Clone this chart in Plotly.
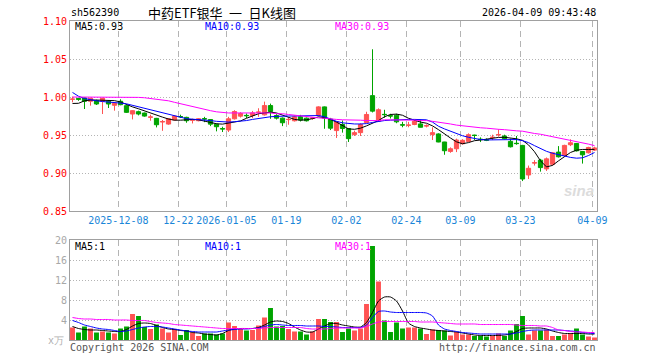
import plotly.graph_objects as go

# ---------------- data ----------------
dates = ["2025-11-26", "2025-11-27", "2025-11-28",
         "2025-12-01", "2025-12-02", "2025-12-03", "2025-12-04", "2025-12-05",
         "2025-12-08", "2025-12-09", "2025-12-10", "2025-12-11", "2025-12-12",
         "2025-12-15", "2025-12-16", "2025-12-17", "2025-12-18", "2025-12-19",
         "2025-12-22", "2025-12-23", "2025-12-24", "2025-12-25", "2025-12-26",
         "2025-12-29", "2025-12-30", "2025-12-31",
         "2026-01-05", "2026-01-06", "2026-01-07", "2026-01-08", "2026-01-09",
         "2026-01-12", "2026-01-13", "2026-01-14", "2026-01-15", "2026-01-16",
         "2026-01-19", "2026-01-20", "2026-01-21", "2026-01-22", "2026-01-23",
         "2026-01-26", "2026-01-27", "2026-01-28", "2026-01-29", "2026-01-30",
         "2026-02-02", "2026-02-03", "2026-02-04", "2026-02-05", "2026-02-06",
         "2026-02-09", "2026-02-10", "2026-02-11", "2026-02-12", "2026-02-13",
         "2026-02-24", "2026-02-25", "2026-02-26", "2026-02-27",
         "2026-03-02", "2026-03-03", "2026-03-04", "2026-03-05", "2026-03-06",
         "2026-03-09", "2026-03-10", "2026-03-11", "2026-03-12", "2026-03-13",
         "2026-03-16", "2026-03-17", "2026-03-18", "2026-03-19", "2026-03-20",
         "2026-03-23", "2026-03-24", "2026-03-25", "2026-03-26", "2026-03-27",
         "2026-03-30", "2026-03-31", "2026-04-01", "2026-04-02", "2026-04-03",
         "2026-04-07", "2026-04-08", "2026-04-09"]

open_ = [0.9970, 0.9980, 0.9988, 0.9944, 0.9952, 0.9944, 0.9944, 0.9891, 0.9944, 0.9886,
         0.9776, 0.9807, 0.9789, 0.9734, 0.9719, 0.9672, 0.9644, 0.9697, 0.9743, 0.9732,
         0.9695, 0.9688, 0.9715, 0.9704, 0.9643, 0.9584, 0.9565, 0.9713, 0.9748, 0.9758,
         0.9756, 0.9798, 0.9765, 0.9887, 0.9756, 0.9722, 0.9702, 0.9687, 0.9739, 0.9722,
         0.9720, 0.9756, 0.9870, 0.9710, 0.9558, 0.9638, 0.9585, 0.9505, 0.9531, 0.9664,
         1.0018, 0.9682, 0.9772, 0.9754, 0.9761, 0.9635, 0.9627, 0.9638, 0.9646, 0.9618,
         0.9505, 0.9514, 0.9408, 0.9284, 0.9319, 0.9385, 0.9416, 0.9498, 0.9445, 0.9436,
         0.9467, 0.9502, 0.9487, 0.9416, 0.9391, 0.9363, 0.8974, 0.9131, 0.9169, 0.9054,
         0.9115, 0.9275, 0.9230, 0.9372, 0.9389, 0.9283, 0.9266, 0.9301]
high = [1.0005, 0.9990, 0.9996, 0.9990, 0.9965, 0.9990, 0.9955, 0.9925, 0.9970, 0.9890,
        0.9825, 0.9820, 0.9795, 0.9767, 0.9725, 0.9697, 0.9723, 0.9755, 0.9767, 0.9740,
        0.9714, 0.9720, 0.9739, 0.9710, 0.9650, 0.9609, 0.9739, 0.9826, 0.9800, 0.9783,
        0.9817, 0.9852, 0.9939, 0.9913, 0.9774, 0.9730, 0.9730, 0.9756, 0.9765, 0.9730,
        0.9735, 0.9878, 0.9875, 0.9725, 0.9680, 0.9691, 0.9590, 0.9558, 0.9655, 0.9806,
        1.0628, 0.9850, 0.9832, 0.9779, 0.9779, 0.9673, 0.9673, 0.9699, 0.9699, 0.9640,
        0.9602, 0.9523, 0.9410, 0.9337, 0.9452, 0.9445, 0.9522, 0.9504, 0.9469, 0.9455,
        0.9504, 0.9575, 0.9504, 0.9451, 0.9487, 0.9370, 0.9098, 0.9169, 0.9186, 0.9204,
        0.9275, 0.9354, 0.9372, 0.9443, 0.9395, 0.9290, 0.9345, 0.9345]
low = [0.9930, 0.9950, 0.9842, 0.9886, 0.9895, 0.9776, 0.9855, 0.9820, 0.9891, 0.9790,
       0.9705, 0.9758, 0.9741, 0.9688, 0.9600, 0.9555, 0.9635, 0.9690, 0.9723, 0.9661,
       0.9652, 0.9680, 0.9669, 0.9617, 0.9548, 0.9539, 0.9539, 0.9704, 0.9730, 0.9722,
       0.9722, 0.9739, 0.9756, 0.9713, 0.9704, 0.9617, 0.9635, 0.9678, 0.9678, 0.9678,
       0.9700, 0.9748, 0.9582, 0.9565, 0.9461, 0.9531, 0.9408, 0.9487, 0.9487, 0.9655,
       0.9797, 0.9673, 0.9726, 0.9717, 0.9655, 0.9602, 0.9602, 0.9629, 0.9600, 0.9600,
       0.9434, 0.9405, 0.9240, 0.9266, 0.9275, 0.9375, 0.9407, 0.9434, 0.9407, 0.9420,
       0.9434, 0.9478, 0.9443, 0.9336, 0.9372, 0.8894, 0.8921, 0.9098, 0.9018, 0.9027,
       0.9098, 0.9204, 0.9222, 0.9354, 0.9283, 0.9124, 0.9257, 0.9290]
close = [0.9972, 0.9970, 0.9944, 0.9983, 0.9908, 0.9983, 0.9908, 0.9917, 0.9899, 0.9798,
         0.9820, 0.9776, 0.9749, 0.9737, 0.9635, 0.9676, 0.9714, 0.9749, 0.9740, 0.9688,
         0.9698, 0.9714, 0.9711, 0.9643, 0.9609, 0.9580, 0.9713, 0.9809, 0.9783, 0.9754,
         0.9791, 0.9801, 0.9887, 0.9809, 0.9722, 0.9661, 0.9705, 0.9739, 0.9696, 0.9687,
         0.9723, 0.9870, 0.9722, 0.9590, 0.9673, 0.9585, 0.9452, 0.9531, 0.9638, 0.9770,
         0.9814, 0.9832, 0.9768, 0.9750, 0.9673, 0.9631, 0.9630, 0.9682, 0.9602, 0.9622,
         0.9531, 0.9408, 0.9293, 0.9319, 0.9434, 0.9430, 0.9504, 0.9494, 0.9441, 0.9432,
         0.9470, 0.9505, 0.9451, 0.9345, 0.9387, 0.8921, 0.9062, 0.9135, 0.9071, 0.9186,
         0.9266, 0.9213, 0.9363, 0.9398, 0.9292, 0.9239, 0.9336, 0.9330]

ma5 = [0.9915, 0.9917, 0.9950, 0.9960, 0.9960, 0.9960, 0.9958, 0.9952, 0.9935, 0.9900,
       0.9870, 0.9845, 0.9815, 0.9790, 0.9760, 0.9735, 0.9710, 0.9695, 0.9695, 0.9700,
       0.9705, 0.9700, 0.9680, 0.9660, 0.9648, 0.9643, 0.9655, 0.9668, 0.9685, 0.9720,
       0.9748, 0.9780, 0.9790, 0.9800, 0.9790, 0.9760, 0.9730, 0.9705, 0.9695, 0.9700,
       0.9715, 0.9739, 0.9728, 0.9705, 0.9670, 0.9630, 0.9580, 0.9575, 0.9590, 0.9620,
       0.9650, 0.9690, 0.9740, 0.9770, 0.9775, 0.9760, 0.9720, 0.9690, 0.9670, 0.9655,
       0.9620, 0.9570, 0.9510, 0.9460, 0.9410, 0.9385, 0.9400, 0.9425, 0.9434, 0.9445,
       0.9460, 0.9468, 0.9470, 0.9460, 0.9450, 0.9430, 0.9370, 0.9280, 0.9160, 0.9080,
       0.9100, 0.9160, 0.9220, 0.9270, 0.9300, 0.9310, 0.9310, 0.9310]
ma10 = [1.0060, 1.0010, 0.9980, 0.9960, 0.9950, 0.9940, 0.9935, 0.9930, 0.9920, 0.9910,
        0.9890, 0.9870, 0.9850, 0.9830, 0.9810, 0.9790, 0.9775, 0.9750, 0.9730, 0.9715,
        0.9708, 0.9704, 0.9700, 0.9690, 0.9680, 0.9675, 0.9670, 0.9675, 0.9680, 0.9690,
        0.9705, 0.9720, 0.9730, 0.9740, 0.9745, 0.9750, 0.9750, 0.9750, 0.9750, 0.9750,
        0.9755, 0.9756, 0.9740, 0.9705, 0.9680, 0.9660, 0.9648, 0.9645, 0.9645, 0.9650,
        0.9665, 0.9680, 0.9690, 0.9695, 0.9700, 0.9700, 0.9705, 0.9705, 0.9705, 0.9700,
        0.9670, 0.9615, 0.9580, 0.9550, 0.9510, 0.9490, 0.9470, 0.9450, 0.9440, 0.9435,
        0.9435, 0.9438, 0.9440, 0.9442, 0.9440, 0.9425, 0.9400, 0.9360, 0.9320, 0.9285,
        0.9260, 0.9240, 0.9220, 0.9205, 0.9195, 0.9200, 0.9230, 0.9270]
ma30 = [1.0000, 1.0000, 1.0000, 1.0000, 1.0000, 1.0000, 1.0000, 1.0000, 1.0000, 1.0000,
        0.9998, 0.9995, 0.9990, 0.9980, 0.9970, 0.9965, 0.9950, 0.9930, 0.9910, 0.9890,
        0.9870, 0.9855, 0.9840, 0.9820, 0.9805, 0.9795, 0.9790, 0.9790, 0.9790, 0.9790,
        0.9790, 0.9790, 0.9790, 0.9790, 0.9780, 0.9780, 0.9770, 0.9760, 0.9750, 0.9740,
        0.9730, 0.9725, 0.9720, 0.9710, 0.9705, 0.9700, 0.9700, 0.9700, 0.9695, 0.9690,
        0.9690, 0.9690, 0.9700, 0.9700, 0.9700, 0.9700, 0.9700, 0.9695, 0.9690, 0.9690,
        0.9680, 0.9670, 0.9660, 0.9645, 0.9630, 0.9620, 0.9610, 0.9600, 0.9595, 0.9590,
        0.9580, 0.9575, 0.9570, 0.9560, 0.9555, 0.9550, 0.9530, 0.9520, 0.9510, 0.9495,
        0.9480, 0.9465, 0.9450, 0.9435, 0.9420, 0.9400, 0.9380, 0.9360]

volume = [2.5, 1.5, 2.7, 2.3, 1.5, 1.7, 1.5, 1.3, 2.3, 2.7,
          5.2, 4.8, 2.6, 2.2, 3.1, 2.3, 1.5, 2.2, 1.0, 2.0,
          1.5, 0.8, 1.3, 1.3, 1.1, 1.3, 3.5, 2.8, 2.4, 1.9,
          2.0, 2.9, 4.5, 6.4, 2.7, 2.8, 2.2, 1.7, 1.7, 1.1,
          1.7, 4.2, 4.2, 3.6, 3.6, 1.6, 2.3, 1.9, 2.3, 7.2,
          18.8, 11.7, 3.9, 1.6, 3.5, 2.3, 2.5, 2.5, 2.3, 1.2,
          2.1, 2.0, 1.9, 0.9, 1.6, 1.1, 1.1, 0.8, 0.8, 0.7,
          0.8, 1.3, 0.8, 1.9, 3.2, 4.8, 1.1, 1.9, 1.9, 2.1,
          0.8, 0.8, 1.1, 1.3, 2.3, 1.1, 0.7, 0.5]
vol_ma5 = [2.7, 2.3, 2.1, 2.0, 2.0, 1.9, 1.8, 1.7, 1.7, 2.1,
           2.8, 3.3, 3.4, 3.3, 2.9, 2.5, 2.2, 2.1, 1.9, 1.8,
           1.5, 1.4, 1.2, 1.1, 1.0, 1.3, 1.9, 2.2, 2.3, 2.3,
           2.3, 2.5, 3.0, 3.6, 3.8, 3.7, 3.3, 2.6, 2.0, 1.6,
           1.6, 2.2, 2.8, 3.3, 3.3, 3.0, 2.8, 2.6, 2.6, 3.5,
           5.5, 7.8, 8.6, 8.6, 7.8, 5.8, 3.4, 2.7, 2.4, 2.2,
           2.0, 1.9, 1.8, 1.7, 1.6, 1.4, 1.2, 1.0, 0.9, 0.9,
           0.9, 0.9, 1.0, 1.2, 1.7, 2.3, 2.4, 2.4, 2.4, 2.2,
           1.8, 1.5, 1.3, 1.3, 1.3, 1.3, 1.2, 1.2]
vol_ma10 = [3.9, 3.5, 3.0, 2.7, 2.4, 2.2, 2.1, 1.9, 1.7, 1.8,
            2.1, 2.4, 2.6, 2.7, 2.7, 2.6, 2.4, 2.2, 2.0, 1.8,
            1.7, 1.6, 1.6, 1.6, 1.6, 1.8, 2.0, 2.1, 2.2, 2.2,
            2.3, 2.4, 2.7, 3.0, 3.1, 3.0, 2.9, 2.9, 2.9, 2.8,
            2.8, 2.8, 2.7, 2.7, 2.6, 2.5, 2.5, 2.5, 2.5, 3.0,
            4.5, 5.7, 5.8, 5.6, 5.5, 5.5, 5.5, 5.5, 5.5, 5.4,
            4.8, 3.0, 2.2, 1.9, 1.7, 1.5, 1.4, 1.3, 1.2, 1.2,
            1.2, 1.2, 1.2, 1.2, 1.4, 1.7, 1.9, 2.0, 2.0, 2.0,
            2.0, 2.0, 1.9, 1.8, 1.7, 1.5, 1.4, 1.3]
vol_ma30 = [4.5, 4.3, 4.2, 4.2, 4.1, 4.1, 4.1, 4.0, 4.0, 4.0,
            3.9, 3.9, 3.9, 3.7, 3.5, 3.4, 3.3, 3.1, 3.0, 2.9,
            2.8, 2.7, 2.6, 2.5, 2.4, 2.3, 2.3, 2.3, 2.3, 2.3,
            2.3, 2.3, 2.4, 2.5, 2.5, 2.5, 2.5, 2.5, 2.5, 2.3,
            2.2, 2.2, 2.2, 2.3, 2.4, 2.4, 2.4, 2.4, 2.4, 2.7,
            3.2, 3.6, 3.7, 3.7, 3.7, 3.7, 3.7, 3.7, 3.6, 3.6,
            3.6, 3.5, 3.4, 3.3, 3.2, 3.2, 3.2, 3.2, 3.1, 3.1,
            3.1, 3.1, 3.1, 3.1, 3.0, 2.9, 2.9, 2.9, 2.8, 2.8,
            2.5, 2.0, 1.9, 1.7, 1.6, 1.6, 1.5, 1.5]

tick_dates = ["2025-12-08", "2025-12-22", "2026-01-05", "2026-01-19", "2026-02-02",
              "2026-02-24", "2026-03-09", "2026-03-23", "2026-04-09"]
tick_labels = ["2025-12-08", "12-22", "2026-01-05", "01-19", "02-02",
               "02-24", "03-09", "03-23", "04-09"]
price_ticks = [0.85, 0.90, 0.95, 1.00, 1.05, 1.10]
vol_ticks = [4, 8, 12, 16, 20]

# ---------------- styling ----------------
W, H = 660, 360
RED = "#ff5353"
GREEN = "#00a400"
GRID = "#b4b4b4"
FRAME = "#a0a0a0"
MONO = "DejaVu Sans Mono"

x = list(range(len(dates)))
tick_pos = [dates.index(d) - 0.35 for d in tick_dates]
vol_colors = [RED if c >= o else GREEN for o, c in zip(open_, close)]

def px(v):
    return v / W

def py(v):
    return 1 - v / H

xr = [(70 - 72.5) / 6, (597 - 72.5) / 6]

fig = go.Figure()
fig.add_trace(go.Candlestick(
    x=x, open=open_, high=high, low=low, close=close,
    increasing=dict(line=dict(color=RED, width=1), fillcolor=RED),
    decreasing=dict(line=dict(color=GREEN, width=1), fillcolor=GREEN),
    whiskerwidth=0, xaxis="x", yaxis="y", showlegend=False, hoverinfo="skip"))
for arr, col in [(ma5, "#000000"), (ma10, "#0000ff"), (ma30, "#ff00ff")]:
    fig.add_trace(go.Scatter(x=x, y=arr, mode="lines", line=dict(color=col, width=1),
                             xaxis="x", yaxis="y", showlegend=False, hoverinfo="skip"))

fig.add_trace(go.Bar(x=x, y=volume, marker=dict(color=vol_colors, line=dict(width=0)),
                     width=0.82, xaxis="x2", yaxis="y2", showlegend=False, hoverinfo="skip"))
for arr, col in [(vol_ma5, "#000000"), (vol_ma10, "#0000ff"), (vol_ma30, "#ff00ff")]:
    fig.add_trace(go.Scatter(x=x, y=arr, mode="lines",
                             line=dict(color=col, width=1, shape="spline", smoothing=0.6),
                             xaxis="x2", yaxis="y2", showlegend=False, hoverinfo="skip"))

common_x = dict(range=xr, tickvals=tick_pos, showgrid=True, gridcolor=GRID, griddash="6px,4px",
                gridwidth=1, zeroline=False, showline=True, mirror=True, linecolor=FRAME,
                linewidth=1, ticks="", fixedrange=True, automargin=False)
common_y = dict(showgrid=True, gridcolor=GRID, griddash="1px,2px", gridwidth=1, zeroline=False,
                showline=True, mirror=True, linecolor=FRAME, linewidth=1, ticks="",
                fixedrange=True, automargin=False)

fig.update_layout(
    width=W, height=H, autosize=False,
    margin=dict(l=0, r=0, t=0, b=0, pad=0, autoexpand=False),
    paper_bgcolor="white", plot_bgcolor="white",
    boxgap=0.3, boxgroupgap=0,
    xaxis=dict(domain=[px(70), px(597)], anchor="y", ticktext=tick_labels,
               tickfont=dict(family=MONO, size=10, color="#1a86d8"),
               rangeslider=dict(visible=False), **common_x),
    yaxis=dict(domain=[py(211), py(21)], anchor="x", range=[0.85, 1.10],
               tickvals=price_ticks, ticktext=["%.2f" % v for v in price_ticks],
               tickfont=dict(family=MONO, size=10, color="#ff0000"), **common_y),
    xaxis2=dict(domain=[px(70), px(597)], anchor="y2", showticklabels=False, **common_x),
    yaxis2=dict(domain=[py(340), py(240)], anchor="x2", range=[0, 20],
                tickvals=vol_ticks, ticktext=[str(v) for v in vol_ticks],
                tickfont=dict(family=MONO, size=10, color="#a8a8a8"), **common_y),
)

def txt(text, xp, yp, color="#000000", anchor="left", size=10, family=MONO):
    fig.add_annotation(text=text, x=px(xp), y=py(yp), xref="paper", yref="paper",
                       xanchor=anchor, yanchor="middle", showarrow=False,
                       font=dict(family=family, size=size, color=color))

txt("sh562390", 69, 13)
txt("中药ETF银华\u2002一\u2002日K线图", 222, 13, anchor="center", size=13, family="Noto Sans CJK SC")
txt("2026-04-09 09:43:48", 598, 13, anchor="right")
txt("MA5:0.93", 73, 27)
txt("MA10:0.93", 203, 27, color="#0000ff")
txt("MA30:0.93", 333, 27, color="#ff00ff")
txt("MA5:1", 73, 246)
txt("MA10:1", 203, 246, color="#0000ff")
txt("MA30:1", 333, 246, color="#ff00ff")
txt("x万", 66, 340, color="#b0b0b0", anchor="right")
txt("Copyright 2026 SINA.COM", 68, 347, color="#555555")
txt("http://finance.sina.com.cn", 598, 347, color="#555555", anchor="right")
txt("<i><b>sina</b></i>", 596, 190, color="#dcdcdc", anchor="right", size=15, family="Liberation Sans")

fig.write_html("out.html", config={"displayModeBar": False},
               post_script="document.body.style.margin='0';document.body.style.padding='0';")
